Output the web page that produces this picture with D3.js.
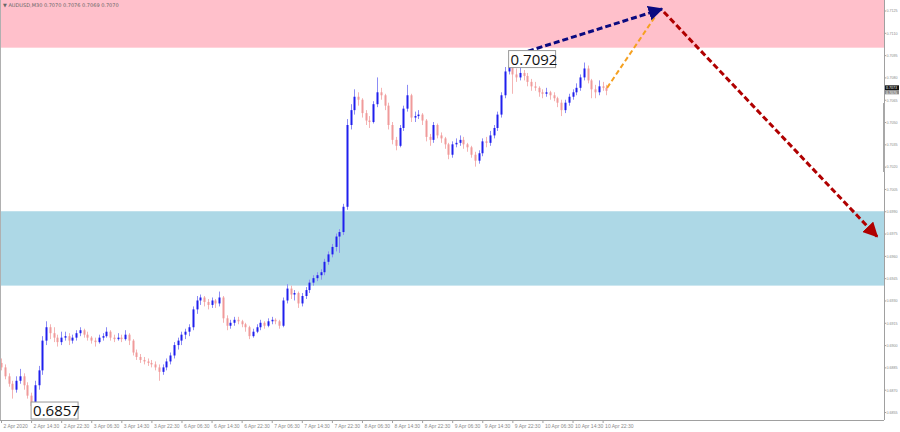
<!DOCTYPE html>
<html>
<head>
<meta charset="utf-8">
<script src="https://cdn.jsdelivr.net/npm/d3@7"></script>
<style>
body { margin: 0; background: #fff; }
svg { display: block; font-family: "DejaVu Sans", sans-serif; }
.axis text { fill: #8a8a8a; font-size: 5px; }
.yaxis text { font-family: "Liberation Sans", sans-serif; font-size: 4.2px; }
.axis path, .axis line { stroke: #a0a0a0; }
</style>
</head>
<body>
<svg width="900" height="432"></svg>
<script>
// AUDUSD candles [open, high, low, close]
var candles = [
  [0.6888,0.6891,0.6883,0.6885],[0.6885,0.6887,0.6877,0.6879],[0.6879,0.6881,0.6872,0.6874],[0.6874,0.6876,0.6864,0.6870],
  [0.6870,0.6879,0.6868,0.6876],[0.6876,0.6884,0.6874,0.6879],[0.6879,0.6881,0.6870,0.6873],[0.6873,0.6875,0.6864,0.6866],
  [0.6866,0.6868,0.6857,0.6859],[0.6859,0.6876,0.6858,0.6873],[0.6873,0.6886,0.6870,0.6883],[0.6883,0.6906,0.6880,0.6903],
  [0.6903,0.6916,0.6900,0.6912],[0.6912,0.6914,0.6904,0.6908],[0.6908,0.6912,0.6902,0.6905],[0.6905,0.6907,0.6899,0.6902],
  [0.6902,0.6909,0.6900,0.6905],[0.6905,0.6909,0.6903,0.6906],[0.6906,0.6908,0.6900,0.6903],[0.6903,0.6907,0.6901,0.6905],
  [0.6905,0.6910,0.6903,0.6908],[0.6908,0.6912,0.6906,0.6910],[0.6910,0.6911,0.6905,0.6907],[0.6907,0.6909,0.6903,0.6905],
  [0.6905,0.6906,0.6901,0.6903],[0.6903,0.6905,0.6899,0.6902],[0.6902,0.6907,0.6901,0.6905],[0.6905,0.6908,0.6903,0.6906],
  [0.6906,0.6912,0.6905,0.6909],[0.6909,0.6910,0.6903,0.6905],[0.6905,0.6907,0.6902,0.6904],[0.6904,0.6908,0.6903,0.6905],
  [0.6905,0.6907,0.6902,0.6904],[0.6904,0.6910,0.6903,0.6907],[0.6907,0.6908,0.6900,0.6903],[0.6903,0.6904,0.6893,0.6895],
  [0.6895,0.6897,0.6890,0.6892],[0.6892,0.6894,0.6888,0.6890],[0.6890,0.6892,0.6887,0.6889],[0.6889,0.6891,0.6886,0.6888],
  [0.6888,0.6890,0.6885,0.6887],[0.6887,0.6889,0.6883,0.6885],[0.6885,0.6887,0.6876,0.6882],[0.6882,0.6887,0.6880,0.6885],
  [0.6885,0.6891,0.6883,0.6889],[0.6889,0.6895,0.6887,0.6893],[0.6893,0.6902,0.6891,0.6900],[0.6900,0.6905,0.6897,0.6903],
  [0.6903,0.6909,0.6900,0.6907],[0.6907,0.6911,0.6904,0.6909],[0.6909,0.6914,0.6906,0.6912],[0.6912,0.6926,0.6910,0.6924],
  [0.6924,0.6933,0.6921,0.6930],[0.6930,0.6934,0.6927,0.6932],[0.6932,0.6933,0.6926,0.6929],[0.6929,0.6931,0.6924,0.6927],
  [0.6927,0.6932,0.6925,0.6930],[0.6930,0.6931,0.6925,0.6928],[0.6928,0.6936,0.6926,0.6932],[0.6932,0.6933,0.6915,0.6918],
  [0.6918,0.6920,0.6910,0.6913],[0.6913,0.6917,0.6911,0.6915],[0.6915,0.6919,0.6913,0.6917],[0.6917,0.6919,0.6914,0.6916],
  [0.6916,0.6917,0.6912,0.6914],[0.6914,0.6915,0.6909,0.6912],[0.6912,0.6913,0.6904,0.6906],[0.6906,0.6911,0.6905,0.6909],
  [0.6909,0.6914,0.6908,0.6912],[0.6912,0.6917,0.6910,0.6915],[0.6915,0.6916,0.6911,0.6913],[0.6913,0.6918,0.6912,0.6916],
  [0.6916,0.6919,0.6914,0.6917],[0.6917,0.6918,0.6914,0.6916],[0.6916,0.6917,0.6911,0.6913],[0.6913,0.6932,0.6912,0.6930],
  [0.6930,0.6941,0.6928,0.6938],[0.6938,0.6940,0.6931,0.6934],[0.6934,0.6937,0.6930,0.6935],[0.6935,0.6936,0.6925,0.6928],
  [0.6928,0.6935,0.6926,0.6933],[0.6933,0.6939,0.6931,0.6937],[0.6937,0.6944,0.6935,0.6942],[0.6942,0.6947,0.6940,0.6945],
  [0.6945,0.6949,0.6943,0.6947],[0.6947,0.6951,0.6944,0.6949],[0.6949,0.6958,0.6947,0.6956],[0.6956,0.6963,0.6954,0.6961],
  [0.6961,0.6968,0.6959,0.6966],[0.6966,0.6975,0.6963,0.6973],[0.6973,0.6978,0.6962,0.6976],[0.6976,0.6995,0.6974,0.6993],
  [0.6993,0.7052,0.6991,0.7048],[0.7048,0.7062,0.7045,0.7058],[0.7058,0.7072,0.7055,0.7067],[0.7067,0.7070,0.7061,0.7065],
  [0.7065,0.7066,0.7053,0.7056],[0.7056,0.7058,0.7048,0.7051],[0.7051,0.7054,0.7046,0.7050],[0.7050,0.7064,0.7049,0.7062],
  [0.7062,0.7080,0.7060,0.7070],[0.7070,0.7073,0.7065,0.7068],[0.7068,0.7069,0.7058,0.7061],[0.7061,0.7063,0.7045,0.7048],
  [0.7048,0.7050,0.7035,0.7038],[0.7038,0.7040,0.7031,0.7034],[0.7034,0.7048,0.7033,0.7046],[0.7046,0.7061,0.7044,0.7059],
  [0.7059,0.7075,0.7057,0.7068],[0.7068,0.7069,0.7050,0.7053],[0.7053,0.7057,0.7050,0.7054],[0.7054,0.7058,0.7052,0.7055],
  [0.7055,0.7056,0.7048,0.7051],[0.7051,0.7052,0.7037,0.7040],[0.7040,0.7042,0.7034,0.7038],[0.7038,0.7050,0.7036,0.7048],
  [0.7048,0.7049,0.7039,0.7041],[0.7041,0.7043,0.7036,0.7039],[0.7039,0.7040,0.7032,0.7035],[0.7035,0.7036,0.7025,0.7028],
  [0.7028,0.7037,0.7026,0.7035],[0.7035,0.7039,0.7033,0.7036],[0.7036,0.7041,0.7034,0.7038],[0.7038,0.7040,0.7032,0.7035],
  [0.7035,0.7036,0.7030,0.7033],[0.7033,0.7034,0.7026,0.7028],[0.7028,0.7030,0.7020,0.7024],[0.7024,0.7031,0.7022,0.7029],
  [0.7029,0.7039,0.7027,0.7037],[0.7037,0.7040,0.7033,0.7036],[0.7036,0.7044,0.7034,0.7041],[0.7041,0.7048,0.7039,0.7046],
  [0.7046,0.7057,0.7044,0.7055],[0.7055,0.7070,0.7053,0.7068],[0.7068,0.7087,0.7066,0.7084],[0.7084,0.7092,0.7082,0.7088],
  [0.7088,0.7090,0.7069,0.7082],[0.7082,0.7086,0.7077,0.7080],[0.7080,0.7087,0.7078,0.7083],[0.7083,0.7085,0.7078,0.7081],
  [0.7081,0.7083,0.7074,0.7077],[0.7077,0.7079,0.7071,0.7074],[0.7074,0.7077,0.7071,0.7073],[0.7073,0.7074,0.7067,0.7070],
  [0.7070,0.7072,0.7066,0.7069],[0.7069,0.7073,0.7067,0.7070],[0.7070,0.7071,0.7065,0.7068],[0.7068,0.7070,0.7064,0.7066],
  [0.7066,0.7067,0.7060,0.7063],[0.7063,0.7065,0.7054,0.7058],[0.7058,0.7065,0.7056,0.7063],[0.7063,0.7069,0.7061,0.7067],
  [0.7067,0.7072,0.7065,0.7070],[0.7070,0.7076,0.7068,0.7073],[0.7073,0.7082,0.7071,0.7080],[0.7080,0.7090,0.7078,0.7086],
  [0.7086,0.7088,0.7076,0.7078],[0.7078,0.7079,0.7066,0.7072],[0.7072,0.7075,0.7066,0.7070],[0.7070,0.7078,0.7068,0.7074],
  [0.7074,0.7077,0.7071,0.7073],[0.7073,0.7075,0.7068,0.7071]
];

var xLabels = ["2 Apr 2020","2 Apr 14:30","2 Apr 22:30","3 Apr 06:30","3 Apr 14:30","3 Apr 22:30",
  "6 Apr 06:30","6 Apr 14:30","6 Apr 22:30","7 Apr 06:30","7 Apr 14:30","7 Apr 22:30",
  "8 Apr 06:30","8 Apr 14:30","8 Apr 22:30","9 Apr 06:30","9 Apr 14:30","9 Apr 22:30",
  "10 Apr 06:30","10 Apr 14:30","10 Apr 22:30"];
var labelEvery = 8;

var yTicks = [0.7125,0.7110,0.7095,0.7080,0.7065,0.7050,0.7035,0.7020,0.7005,0.6990,0.6975,
  0.6960,0.6945,0.6930,0.6915,0.6900,0.6885,0.6870,0.6855];

// zones: [low, high]
var resistanceZone = [0.7100, 0.7140];
var supportZone = [0.6940, 0.6990];

// wave arrows: [barIndex, price]
var blueArrow = [[135.6, 0.7094], [175.8, 0.7126]];
var orangeArrow = [[161.2, 0.7073], [174.0, 0.7121]];
var redArrow = [[176.3, 0.7124], [233.0, 0.6973]];

var extremes = [{i: 8, price: 0.6857, text: "0.6857"}, {i: 135, price: 0.7092, text: "0.7092"}];

var header = "AUDUSD,M30  0.7070 0.7076 0.7069 0.7070";
var bidAsk = [0.7073, 0.7075];

var plot = {left: 0, right: 884, top: 0, bottom: 420};

var svg = d3.select("svg");

var xScale = d3.scaleLinear().domain([0, 235]).range([1, 1 + 235 * 3.76]);
var yScale = d3.scaleLinear().domain([0.6855, 0.7125]).range([412, 10.5]);

var defs = svg.append("defs");
defs.append("clipPath").attr("id", "plotClip")
  .append("rect").attr("x", plot.left).attr("y", plot.top)
  .attr("width", plot.right - plot.left).attr("height", plot.bottom - plot.top);

var g = svg.append("g").attr("clip-path", "url(#plotClip)");

// zones
g.append("rect")
  .attr("x", plot.left).attr("width", plot.right - plot.left)
  .attr("y", yScale(resistanceZone[1]))
  .attr("height", yScale(resistanceZone[0]) - yScale(resistanceZone[1]))
  .attr("fill", "#ffc0cb");
g.append("rect")
  .attr("x", plot.left).attr("width", plot.right - plot.left)
  .attr("y", yScale(supportZone[1]))
  .attr("height", yScale(supportZone[0]) - yScale(supportZone[1]))
  .attr("fill", "#add8e6");

// candles
var cg = g.append("g");
var cs = cg.selectAll("g").data(candles).enter().append("g");
cs.append("line")
  .attr("x1", function(d, i){ return Math.round(xScale(i)) + 0.5; })
  .attr("x2", function(d, i){ return Math.round(xScale(i)) + 0.5; })
  .attr("y1", function(d){ return yScale(d[1]); })
  .attr("y2", function(d){ return yScale(d[2]); })
  .attr("stroke", function(d){ return d[3] >= d[0] ? "#8c8cf5" : "#f4b4b4"; })
  .attr("stroke-width", 1);
cs.append("rect")
  .attr("x", function(d, i){ return Math.round(xScale(i)) - 0.5; })
  .attr("width", 2)
  .attr("y", function(d){ return yScale(Math.max(d[0], d[3])); })
  .attr("height", function(d){ return Math.max(1, Math.abs(yScale(d[0]) - yScale(d[3]))); })
  .attr("fill", function(d){ return d[3] >= d[0] ? "#1f1fee" : "#f09a9a"; });

// arrows
function marker(id, color) {
  defs.append("marker").attr("id", id)
    .attr("viewBox", "0 0 10 10").attr("refX", 9).attr("refY", 5)
    .attr("markerWidth", 5).attr("markerHeight", 5)
    .attr("markerUnits", "strokeWidth")
    .attr("orient", "auto")
    .append("path").attr("d", "M0,0 L10,5 L0,10 Z").attr("fill", color);
}
marker("headBlue", "#0a0a80");
marker("headRed", "#b00000");

var line = d3.line()
  .x(function(d){ return xScale(d[0]); })
  .y(function(d){ return yScale(d[1]); });

svg.append("path").datum(orangeArrow)
  .attr("d", line).attr("fill", "none")
  .attr("stroke", "#f5a020").attr("stroke-width", 2)
  .attr("stroke-dasharray", "5,3");
svg.append("path").datum(blueArrow)
  .attr("d", line).attr("fill", "none")
  .attr("stroke", "#0a0a80").attr("stroke-width", 3)
  .attr("stroke-dasharray", "6,3")
  .attr("marker-end", "url(#headBlue)");
svg.append("path").datum(redArrow)
  .attr("d", line).attr("fill", "none")
  .attr("stroke", "#b00000").attr("stroke-width", 3)
  .attr("stroke-dasharray", "6,3")
  .attr("marker-end", "url(#headRed)");

// extreme labels
var lab = svg.selectAll(".ext").data(extremes).enter().append("g").attr("class", "ext")
  .attr("transform", function(d){
    var y = d.price < 0.69 ? yScale(d.price) - 7 : yScale(d.price) - 9;
    return "translate(" + xScale(d.i) + "," + y + ")";
  });
lab.append("rect").attr("x", 0).attr("y", 0).attr("width", 47).attr("height", 17)
  .attr("fill", "#fff").attr("stroke", "#9a9a9a").attr("stroke-width", 1);
lab.append("text").attr("x", 2).attr("y", 14).text(function(d){ return d.text; })
  .attr("font-family", "'Open Sans', sans-serif").attr("font-size", 15).attr("fill", "#111");

// axes
var yAxis = d3.axisRight(yScale).tickValues(yTicks).tickSize(2).tickPadding(0.5)
  .tickFormat(d3.format(".4f"));
svg.append("g").attr("class", "axis yaxis").attr("transform", "translate(" + plot.right + ",0)")
  .call(yAxis)
  .call(function(a){ a.select(".domain").attr("d", "M0.5,0V" + plot.bottom); })
  .selectAll("text").attr("textLength", 11).attr("lengthAdjust", "spacingAndGlyphs");

var xIdx = xLabels.map(function(t, k){ return k * labelEvery; });
var xAxis = d3.axisBottom(xScale).tickValues(xIdx).tickSize(3).tickPadding(1)
  .tickFormat(function(d){ return xLabels[d / labelEvery]; });
var xa = svg.append("g").attr("class", "axis").attr("transform", "translate(0," + plot.bottom + ")")
  .call(xAxis)
  .call(function(a){ a.select(".domain").attr("d", "M0,0.5H" + plot.right); });
xa.selectAll("text").attr("text-anchor", "start").attr("dx", 2);

// left frame
svg.append("line").attr("x1", 0.5).attr("x2", 0.5).attr("y1", 0).attr("y2", plot.bottom)
  .attr("stroke", "#b0b0b0");

// bid / ask markers on the price scale
svg.append("rect").attr("x", plot.right + 1).attr("y", yScale(bidAsk[0]) - 2.5)
  .attr("width", 14).attr("height", 5).attr("fill", "#111");
svg.append("text").attr("x", plot.right + 2).attr("y", yScale(bidAsk[0]) + 1.6)
  .attr("font-size", 4.2).attr("fill", "#fff").attr("textLength", 11)
  .attr("lengthAdjust", "spacingAndGlyphs").text(bidAsk[0].toFixed(4));
svg.append("rect").attr("x", plot.right + 1).attr("y", yScale(bidAsk[0]) + 2.5)
  .attr("width", 14).attr("height", 4).attr("fill", "#888");
svg.append("text").attr("x", plot.right + 2).attr("y", yScale(bidAsk[0]) + 5.8)
  .attr("font-size", 3.8).attr("fill", "#fff").attr("textLength", 11)
  .attr("lengthAdjust", "spacingAndGlyphs").text(bidAsk[1].toFixed(4));
svg.append("rect").attr("x", plot.right - 1).attr("y", 103).attr("width", 2).attr("height", 69)
  .attr("fill", "#a8a8a8");

// header
svg.append("text").attr("x", 3).attr("y", 7).attr("font-size", 5).attr("fill", "#666")
  .text("\u25BC " + header);
</script>
</body>
</html>
